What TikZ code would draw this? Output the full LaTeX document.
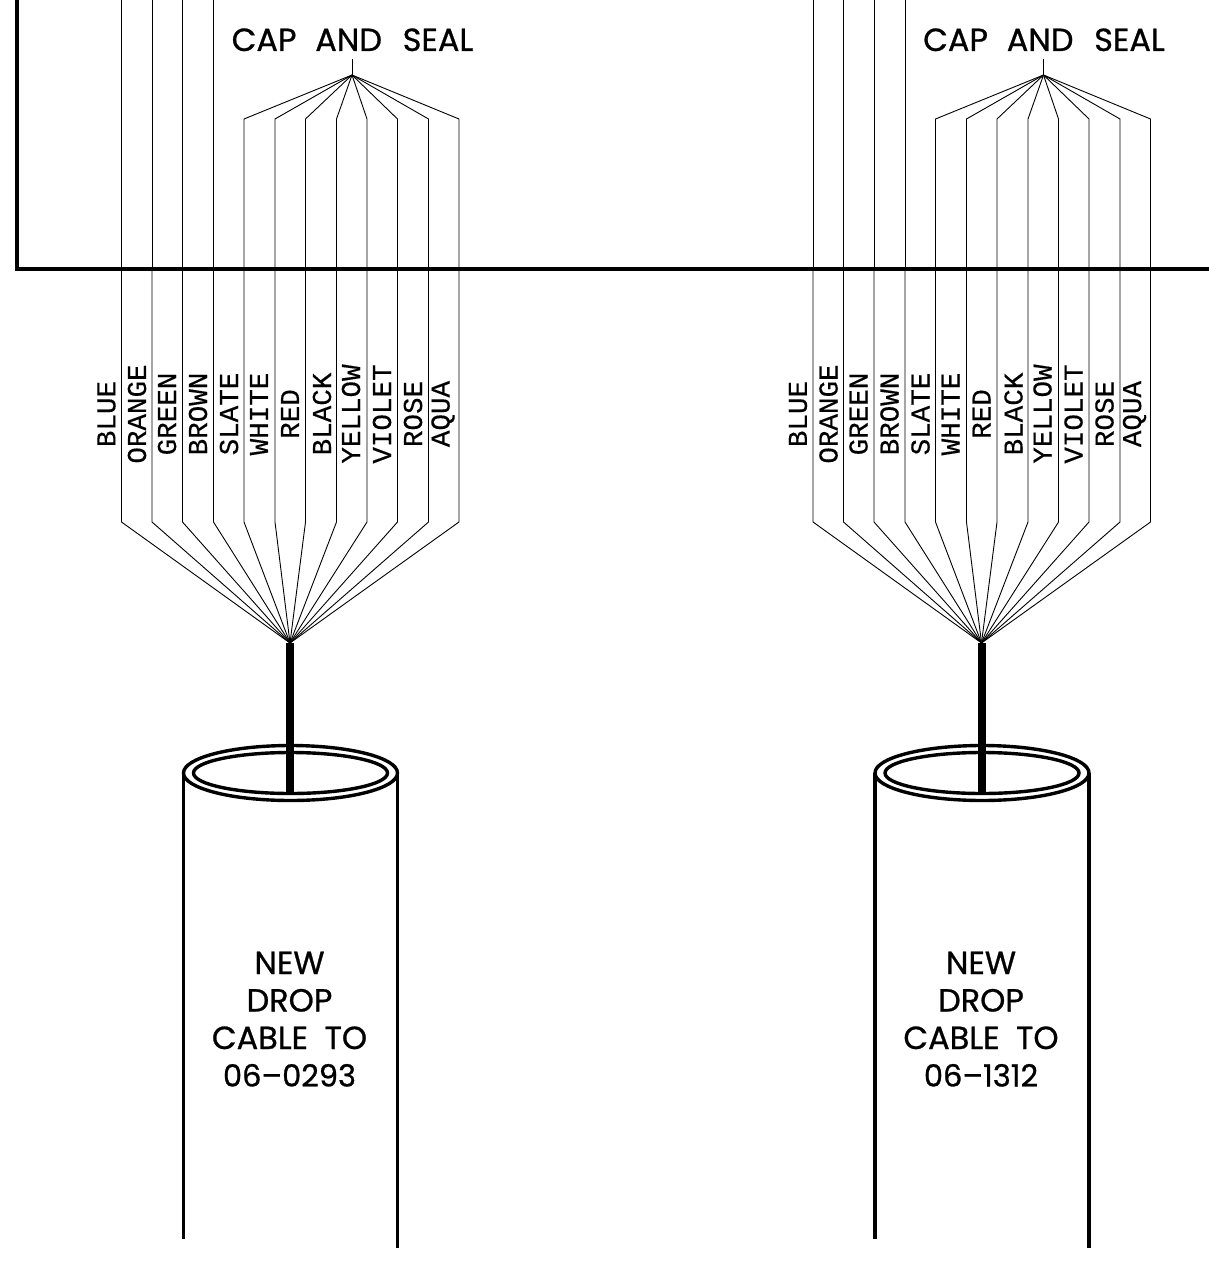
\documentclass[tikz,border=0pt]{standalone}
\usepackage{fontspec}
\setmainfont{Poppins}
\newfontfamily\titlefont{Poppins}[FakeBold=0.8]
\newfontfamily\labelfont{Liberation Mono}[FakeBold=0.25]
\tikzset{
  x=1pt,y=-1pt,
  wire/.style={line width=0.9pt,line join=miter},
  frameline/.style={line width=4.4pt,line join=miter},
  shell/.style={line width=3.4pt},
  core/.style={line width=8pt},
  colourlabel/.style={rotate=90,inner sep=0pt,font=\labelfont\fontsize{26}{26}\selectfont,yscale=1.05,xscale=1.06},
  title/.style={inner sep=0pt,anchor=base,font=\titlefont\fontsize{32}{32}\selectfont},
  number/.style={title,font=\titlefont\fontsize{30.5}{32}\selectfont},
}
\newcommand{\dropset}[3]{%
 \begin{scope}[shift={(#1,0)}]
  \coordinate (#3fan) at (-1,643);
  \coordinate (#3cap) at (61,75);
  \coordinate (#3stem) at (61,59);
  \foreach \px/\cl/\lx [count=\i] in {-169.5/BLUE/-184.5,-139/ORANGE/-154,-108.5/GREEN/-124,-77.5/BROWN/-93,-47/SLATE/-62,-16/WHITE/-32,14.5/RED/-1,45.5/BLACK/31,76/YELLOW/60,106.5/VIOLET/91,137.5/ROSE/122,168/AQUA/152}{
   \coordinate (#3low\i) at (\px,522);
   \coordinate (#3mid\i) at (\px,269);
   \coordinate (#3up\i) at (\px,119);
   \coordinate (#3top\i) at (\px,0);
   \node[colourlabel] (#3lab\i) at (\lx,414) {\cl};
   \draw[wire] (#3fan) -- (#3low\i) -- (#3mid\i);
   \ifnum\i<5 \draw[wire] (#3mid\i) -- (#3top\i);
   \else \draw[wire] (#3mid\i) -- (#3up\i) -- (#3cap);
   \fi
  }
  \draw[wire] (#3cap) -- (#3stem);
  \node[title] (#3capseal) at (61.5,51) {CAP\hspace{0.32em} AND\hspace{0.38em} SEAL};
  \coordinate (#3rim) at (-0.5,773);
  \coordinate (#3rimbase) at (-1,792);
  \draw[core] (#3fan) -- (#3rimbase);
  \draw[shell] (#3rim) ellipse [x radius=107,y radius=27.5];
  \draw[shell] (#3rim) ellipse [x radius=97,y radius=20.5];
  \coordinate (#3la) at (-107.5,773);
  \coordinate (#3lb) at (-107.5,1239);
  \coordinate (#3ra) at (106.5,773);
  \coordinate (#3rb) at (106.5,1248);
  \draw[shell] (#3la) -- (#3lb);
  \draw[shell] (#3ra) -- (#3rb);
  \node[title] (#3ta) at (-1.5,974) {NEW};
  \node[title] (#3tb) at (-1.5,1011.5) {DROP};
  \node[title] (#3tc) at (-1.5,1049) {CABLE\hspace{0.25em} TO};
  \node[number] (#3td) at (-1.5,1086.5) {#2};
 \end{scope}%
}
\begin{document}
\begin{tikzpicture}
\useasboundingbox (0,0) rectangle (1209,1268);
\coordinate (ftop) at (17,0);
\coordinate (fcorner) at (17,269);
\coordinate (fright) at (1209,269);
\draw[frameline] (ftop) -- (fcorner) -- (fright);
\dropset{291}{06–0293}{a}
\dropset{982.5}{06–1312}{b}
\end{tikzpicture}
\end{document}
